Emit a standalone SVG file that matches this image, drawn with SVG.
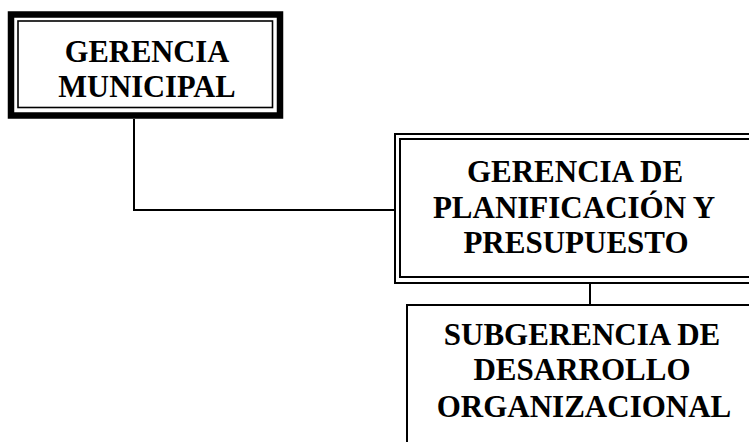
<svg xmlns="http://www.w3.org/2000/svg" width="749" height="442" viewBox="0 0 749 442">
  <style>
    .lbl { font-family: "Liberation Serif", "Times New Roman", serif; font-weight: bold; fill: #000; text-anchor: middle; }
    .thin { fill: none; stroke: #000; stroke-width: 2; }
    .link { fill: none; stroke: #000; stroke-width: 2; }
  </style>
  <rect width="749" height="442" fill="#fff"/>

  <!-- connectors -->
  <g id="connectors">
    <polyline class="link" points="134,119 134,210 395,210"/>
    <line class="link" x1="590" y1="284" x2="590" y2="305"/>
  </g>

  <!-- top node: thick outer frame + thin inner frame -->
  <g id="gerencia-municipal">
    <rect x="11" y="14.5" width="269" height="101" fill="#fff" stroke="#000" stroke-width="6.5"/>
    <rect x="18" y="21" width="254.5" height="86.5" fill="none" stroke="#000" stroke-width="1.6"/>
    <text class="lbl" x="147" y="62" font-size="30.5">GERENCIA</text>
    <text class="lbl" x="147" y="97" font-size="30.5">MUNICIPAL</text>
  </g>

  <!-- middle node: double thin frame -->
  <g id="gerencia-planificacion">
    <rect x="395" y="134" width="370" height="149" fill="#fff" class="thin"/>
    <rect x="400" y="139" width="360" height="138" class="thin"/>
    <text class="lbl" x="575" y="182" font-size="31">GERENCIA DE</text>
    <text class="lbl" x="574" y="218" font-size="31">PLANIFICACIÓN Y</text>
    <text class="lbl" x="576" y="253" font-size="31">PRESUPUESTO</text>
  </g>

  <!-- bottom node: single thin frame -->
  <g id="subgerencia-desarrollo">
    <rect x="407" y="305" width="360" height="150" fill="#fff" class="thin"/>
    <text class="lbl" x="582" y="345" font-size="31">SUBGERENCIA DE</text>
    <text class="lbl" x="582" y="380" font-size="31">DESARROLLO</text>
    <text class="lbl" x="584" y="417" font-size="31">ORGANIZACIONAL</text>
  </g>
</svg>
